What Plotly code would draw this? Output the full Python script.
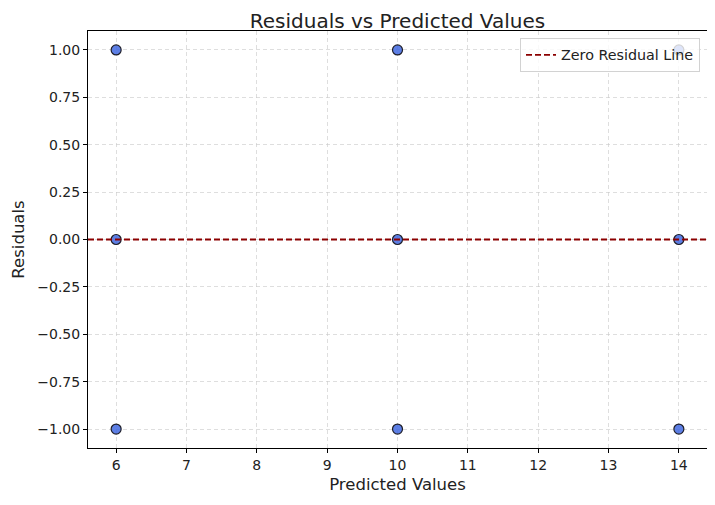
import plotly.graph_objects as go

# predicted values and residuals
predicted = [6, 6, 6, 10, 10, 10, 14, 14, 14]
residuals = [1, 0, -1, 1, 0, -1, 1, 0, -1]

x_ticks = list(range(6, 15))
y_ticks = [-1.0, -0.75, -0.5, -0.25, 0.0, 0.25, 0.5, 0.75, 1.0]

font_family = "DejaVu Sans"
x_range = [5.6, 14.4]
y_range = [-1.1, 1.1]

fig = go.Figure()

fig.add_trace(
    go.Scatter(
        x=predicted,
        y=residuals,
        mode="markers",
        marker=dict(
            size=10,
            color="rgba(65,105,225,0.85)",
            line=dict(width=1.2, color="rgb(30,30,40)"),
        ),
        showlegend=False,
    )
)

fig.add_trace(
    go.Scatter(
        x=x_range,
        y=[0, 0],
        mode="lines",
        line=dict(color="darkred", width=1.8, dash="6px,3px"),
        name="Zero Residual Line",
    )
)

axis_style = dict(
    showline=True,
    linecolor="black",
    linewidth=1,
    mirror=True,
    ticks="outside",
    ticklen=4,
    tickcolor="black",
    showgrid=True,
    gridcolor="rgba(200,200,200,0.6)",
    griddash="4px,3px",
    gridwidth=1,
    zeroline=False,
    automargin=False,
    tickfont=dict(family=font_family, size=14, color="#222"),
)

# the page adds an 8px body margin, so the figure is sized to fit the window
fig.update_layout(
    width=707,
    height=497,
    plot_bgcolor="white",
    paper_bgcolor="white",
    font=dict(family=font_family, color="#222"),
    title=dict(
        text="Residuals vs Predicted Values",
        xref="paper",
        x=0.5,
        xanchor="center",
        y=0.988,
        yanchor="top",
        font=dict(size=20),
    ),
    margin=dict(l=80, r=8, t=23, b=57),
    xaxis=dict(
        axis_style,
        range=x_range,
        tickvals=x_ticks,
        title=dict(text="Predicted Values", font=dict(size=16.5), standoff=6),
    ),
    yaxis=dict(
        axis_style,
        range=y_range,
        tickvals=y_ticks,
        tickformat=".2f",
        title=dict(text="Residuals", font=dict(size=16.5), standoff=8),
    ),
    legend=dict(
        x=0.9887,
        y=0.983,
        xanchor="right",
        yanchor="top",
        bgcolor="rgba(255,255,255,0.8)",
        bordercolor="rgba(210,210,210,1)",
        borderwidth=1,
        font=dict(size=14.3),
    ),
)

fig.write_html("out.html")
